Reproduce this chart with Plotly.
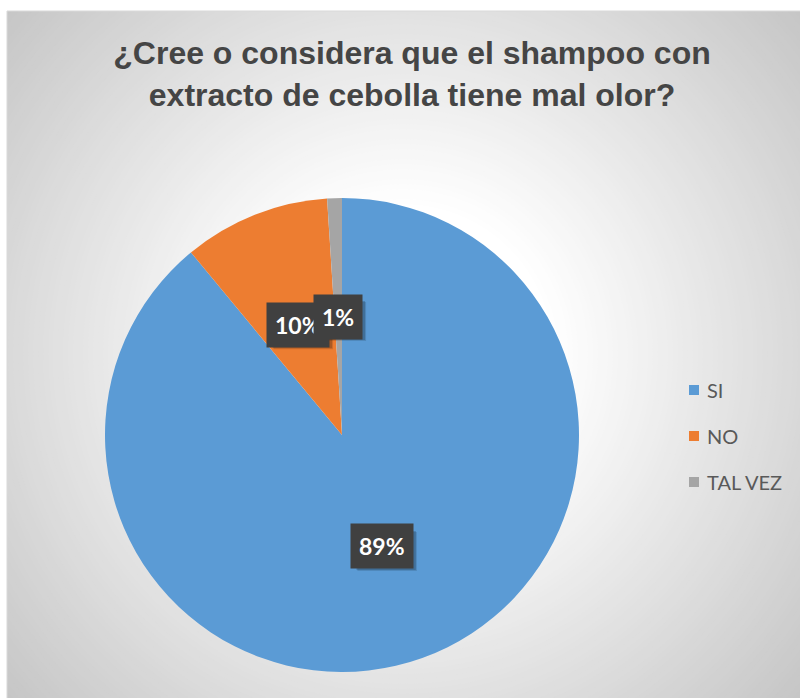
import math
import plotly.graph_objects as go

# Survey answers
labels = ["SI", "NO", "TAL VEZ"]
values = [89, 10, 1]
colors = ["#5B9BD5", "#ED7D31", "#A5A5A5"]
title_text = "¿Cree o considera que el shampoo con<br>extracto de cebolla tiene mal olor?"

W, H = 800, 698
ML, MT = 7, 11                       # outer white margin around the chart area
PW, PH = W - ML, H - MT              # chart area size in px

def px_to_paper(px, py):
    return (px - ML) / PW, (H - py) / PH

# pie geometry (px)
cx, cy, R = 342, 435, 237
x0p, _ = px_to_paper(cx - R, cy)
x1p, _ = px_to_paper(cx + R, cy)
_, y1p = px_to_paper(cx, cy - R)
_, y0p = px_to_paper(cx, cy + R)

fig = go.Figure(go.Pie(
    labels=labels, values=values, marker=dict(colors=colors, line=dict(width=0)),
    sort=False, direction="clockwise", rotation=0,
    textinfo="none", hoverinfo="label+percent", showlegend=False,
    domain=dict(x=[x0p, x1p], y=[y0p, y1p]),
))

shapes = []
# radial background gradient: concentric circles, lighter toward the centre
gcx, gcy = px_to_paper(403, 354)
r = 600
while r >= 140:
    g = int(round(255 - 0.152 * max(0, r - 150)))
    g = max(188, min(255, g))
    shapes.append(dict(type="circle", xref="paper", yref="paper",
                       xsizemode="pixel", ysizemode="pixel",
                       xanchor=gcx, yanchor=gcy,
                       x0=-r, x1=r, y0=-r, y1=r,
                       fillcolor=f"rgb({g},{g},{g})", line=dict(width=0), layer="below"))
    r -= 5
# white outer margin
shapes.append(dict(type="rect", xref="paper", yref="paper", x0=-1, x1=0, y0=-1, y1=2,
                   fillcolor="white", line=dict(width=0), layer="below"))
shapes.append(dict(type="rect", xref="paper", yref="paper", x0=-1, x1=2, y0=1, y1=2,
                   fillcolor="white", line=dict(width=0), layer="below"))
# chart border
shapes.append(dict(type="rect", xref="paper", yref="paper", x0=0, x1=1.2, y0=-0.2, y1=1,
                   fillcolor="rgba(0,0,0,0)", line=dict(width=1, color="#D9D9D9"), layer="below"))

annotations = []
LABEL_SIZE = 23
# percentage labels placed at half radius on each slice's mid-angle
total = sum(values)
cum = 0
for lab, v in zip(labels, values):
    mid = (cum + v / 2) / total * 2 * math.pi
    cum += v
    lx = cx + 0.5 * R * math.sin(mid)
    ly = cy - 0.5 * R * math.cos(mid)
    ax, ay = px_to_paper(lx, ly)
    pct = f"{round(100 * v / total)}%"
    # soft drop shadow behind the label box
    bw = 0.6 * LABEL_SIZE * len(pct) + 18
    bh = LABEL_SIZE + 16
    for k, a in ((5, 0.12), (4, 0.18)):
        shapes.append(dict(type="rect", xref="paper", yref="paper",
                           xsizemode="pixel", ysizemode="pixel", xanchor=ax, yanchor=ay,
                           x0=-bw / 2 + k, x1=bw / 2 + k, y0=-bh / 2 - k, y1=bh / 2 - k,
                           fillcolor=f"rgba(0,0,0,{a})", line=dict(width=0)))
    annotations.append(dict(text=f"<b>{pct}</b>", xref="paper", yref="paper", x=ax, y=ay,
                            showarrow=False, xanchor="center", yanchor="middle",
                            borderpad=8, bgcolor="#404040",
                            font=dict(family="Lato", size=LABEL_SIZE, color="white")))

# legend
for i, (lab, col) in enumerate(zip(labels, colors)):
    ty = 390 + 46 * i
    sx0, sy0 = px_to_paper(689, ty + 5)
    sx1, sy1 = px_to_paper(699, ty - 5)
    shapes.append(dict(type="rect", xref="paper", yref="paper", x0=sx0, x1=sx1, y0=sy0, y1=sy1,
                       fillcolor=col, line=dict(width=0)))
    tx, typ = px_to_paper(705, ty)
    annotations.append(dict(text=lab, xref="paper", yref="paper", x=tx, y=typ, showarrow=False,
                            xanchor="left", yanchor="middle",
                            font=dict(family="Lato", size=20, color="#595959")))

fig.update_layout(
    width=W, height=H,
    margin=dict(l=ML, t=MT, r=0, b=0),
    paper_bgcolor="white", plot_bgcolor="rgba(0,0,0,0)",
    title=dict(text=title_text, x=(412 - ML) / PW, xref="paper", xanchor="center",
               y=1 - 64 / H, yref="container", yanchor="top",
               font=dict(family="Liberation Sans", size=32, color="#454545", weight="bold")),
    shapes=shapes, annotations=annotations,
)

fig.write_html("out.html")
